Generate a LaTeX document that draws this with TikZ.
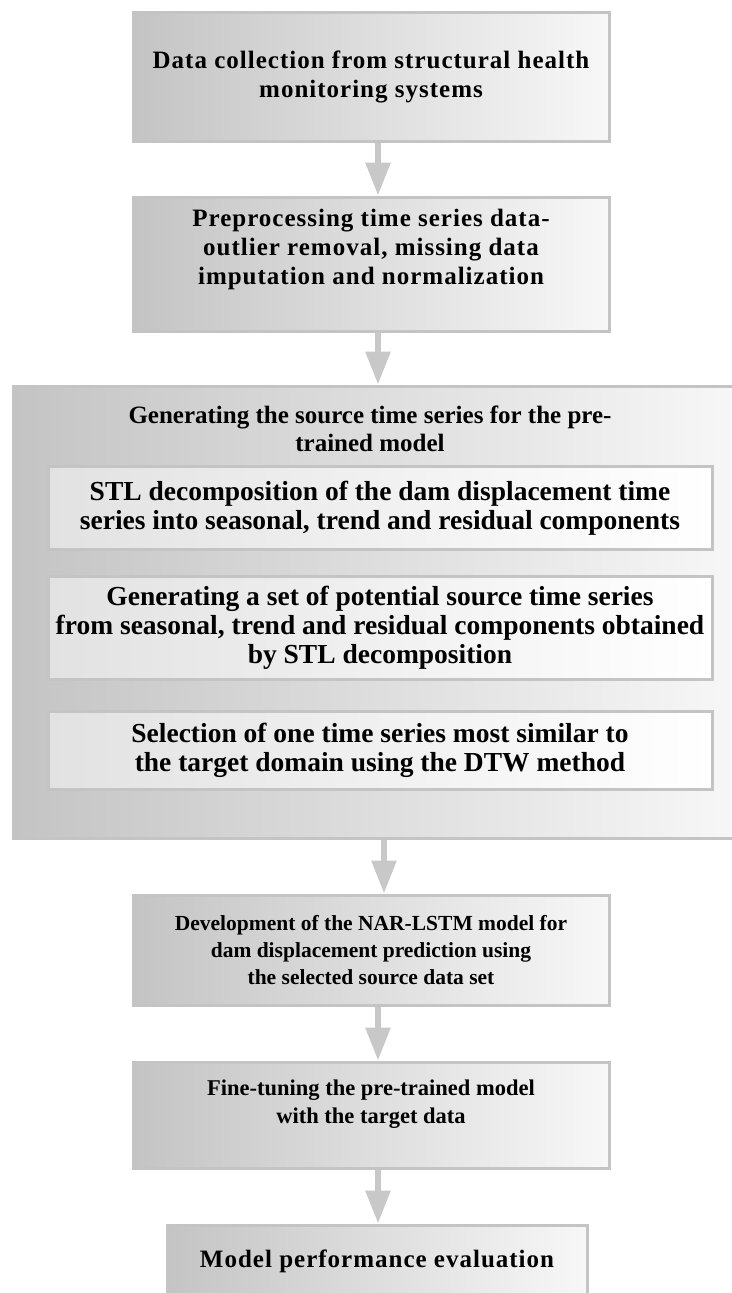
\documentclass[tikz,border=0pt]{standalone}
\usepackage{fontspec}
\setmainfont{Liberation Serif}
\newfontfamily\stepfont[LetterSpace=4]{Liberation Serif}
\usetikzlibrary{arrows.meta}
\definecolor{boxline}{RGB}{196,196,196}
\definecolor{boxdark}{RGB}{196,196,196}
\definecolor{subdark}{RGB}{226,226,226}
\definecolor{arrgray}{RGB}{200,200,200}

\begin{document}
\begin{tikzpicture}[line join=miter,x=1pt,y=-1pt,
  box/.style={draw=boxline,line width=3pt,left color=boxdark,right color=white!97!black,
    align=center,inner sep=0pt,minimum width=476pt,font=\fontsize{25}{29}\stepfont\bfseries},
  sub/.style={draw=boxline,line width=3pt,left color=subdark,right color=white,
    align=center,inner sep=0pt,minimum width=664pt,font=\fontsize{27.5}{29}\selectfont\bfseries},
  arr/.style={-{Triangle[length=33pt,width=24pt]},line width=6pt,draw=arrgray}]
\useasboundingbox (0,0) rectangle (731,1293);

%main steps
\node[box,minimum height=129pt] (collect) at (371,76.5) {Data collection from structural health\\monitoring systems};
\node[box,minimum height=134pt,text depth=34pt] (prep) at (371,264) {Preprocessing time series data-\\outlier removal, missing data\\imputation and normalization};

%source series block
\node[draw=boxline,line width=3pt,left color=boxdark,right color=white!97!black,
  inner sep=0pt,minimum width=728pt,minimum height=452pt] (gen) at (377,612) {};
\node[align=center,font=\fontsize{25}{28}\selectfont\bfseries] (gentitle) at (370,429) {Generating the source time series for the pre-\\trained model};
\node[sub,minimum height=83pt] (stl) at (380,508) {STL decomposition of the dam displacement time\\series into seasonal, trend and residual components};
\node[sub,minimum height=103pt] (pool) at (380,628) {Generating a set of potential source time series\\from seasonal, trend and residual components obtained\\by STL decomposition};
\node[sub,minimum height=78pt] (dtw) at (380,750) {Selection of one time series most similar to\\the target domain using the DTW method};

%model steps
\node[box,minimum height=110pt,font=\fontsize{21.5}{27}\selectfont\bfseries] (narlstm) at (371,950) {Development of the NAR-LSTM model for\\dam displacement prediction using\\the selected source data set};
\node[box,minimum height=106pt,text depth=26pt,font=\fontsize{22.5}{28}\selectfont\bfseries] (tune) at (371,1115) {Fine-tuning the pre-trained model\\with the target data};
\node[box,minimum width=420pt,minimum height=72pt] (eval) at (377,1261) {Model performance evaluation};

%arrows
\foreach \a/\b in {collect/prep,prep/gen,gen/narlstm,narlstm/tune,tune/eval}
  \draw[arr] ([xshift=7pt]\a.south) -- ([xshift=7pt]\a.south |- \b.north);
\end{tikzpicture}
\end{document}
